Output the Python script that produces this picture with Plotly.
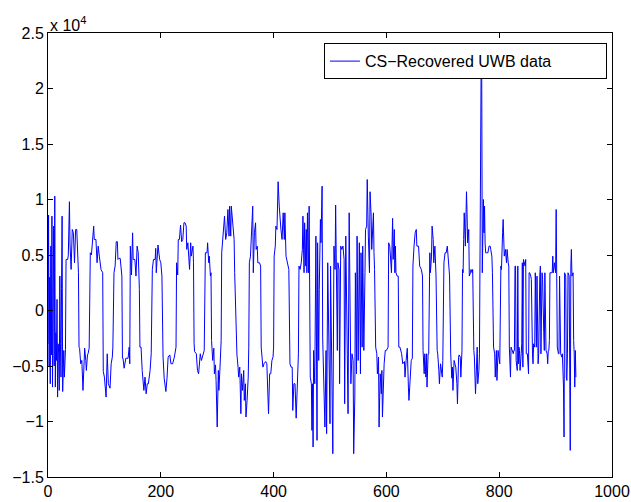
import plotly.graph_objects as go

# sample index of each point
sample = [0,1,2,3,4,5,6,7,8,9,10,11,12,13,14,15,16,17,18,19,20,21,22,23,24,25,26,27,28,29,30,31,32,33,35,36,38,39,41,43,45,47,49,51,53,54,55,56,58,60,62,63,65,67,68,70,71,73,75,77,79,81,82,85,87,89,91,94,97,98,100,103,105,107,110,112,114,115,
117,119,121,123,124,126,128,130,131,132,133,135,138,142,144,145,146,148,150,151,154,156,158,160,162,163,165,167,170,172,174,176,178,181,183,185,187,190,191,192,195,198,200,202,203,204,206,209,211,213,216,218,221,224,227,228,230,231,233,235,
237,239,241,243,245,246,248,251,253,254,257,258,259,260,263,265,267,270,272,274,277,279,282,283,285,286,288,289,290,292,294,295,297,298,300,302,303,305,307,308,310,312,313,315,317,319,321,322,324,325,327,328,330,331,334,335,337,338,340,342,343,345,347,348,350,351,353,355,356,357,359,361,362,363,364,366,
368,369,371,372,375,377,378,381,383,386,388,390,391,393,395,397,399,400,401,403,404,406,408,410,412,413,415,417,419,420,422,425,427,429,431,433,434,436,438,440,442,444,445,447,449,451,452,454,455,457,458,459,460,462,463,464,465,467,468,469,470,471,473,475,477,478,480,481,483,484,486,487,489,
491,493,494,496,498,500,501,503,505,507,509,510,511,513,514,516,517,519,521,523,525,526,528,530,532,534,536,537,539,541,542,544,545,547,548,550,552,554,555,557,558,560,562,563,565,566,568,570,571,573,574,575,577,578,579,581,583,584,586,587,589,591,592,593,595,596,598,600,603,604,606,608,609,611,612,
613,614,615,616,617,619,621,622,624,627,629,632,633,635,637,639,640,642,644,646,647,649,651,653,654,657,659,662,664,665,667,668,670,671,672,674,675,677,678,680,681,683,684,686,687,688,690,691,693,694,696,697,699,700,702,704,706,708,710,711,712,714,716,717,718,720,722,723,725,726,728,729,731,732,734,735,736,
737,738,740,741,742,743,744,746,747,749,750,752,753,755,756,758,759,761,762,764,765,766,767,768,769,770,771,772,773,774,775,776,778,780,782,784,785,787,788,790,792,793,795,796,798,800,801,803,804,806,807,809,811,813,814,816,817,818,820,821,823,825,826,827,828,829,830,832,833,834,835,836,837,839,840,841,842,843,844,846,847,848,850,852,853,854,856,857,859,860,861,
863,864,866,867,869,870,872,873,874,876,877,879,880,881,882,883,885,886,887,888,889,890,892,894,895,896,898,899,900,901,902,903,905,906,907,908,909,911,912,914,915,916,918,919,920,921,922,924,925,926,927,928,929,931,932,933,934,935,936]

# recovered amplitude at each sample
amplitude = [-3000,8600,-5000,3000,-6600,5800,-4000,8500,-6900,2000,7600,-5000,10300,-6900,-2000,-4500,1000,-7800,-3000,-3900,-7200,3100,-3000,-6000,2000,8500,-7300,-5000,-3600,-6000,-4500,-3500,4600,4600,4600,5000,9800,6000,3700,7300,7000,4300,7300,7300,5500,3400,-3300,-3400,-4800,-4500,-7200,-5000,-3400,-4500,-5400,-4000,-3900,-3400,5200,5000,6000,7600,6400,6400,4300,5800,4900,3700,3400,-5500,-6000,-7800,-3900,-6600,-7000,-4800,-4200,-3300,
3400,4000,6200,6200,4600,4700,4700,3700,3100,-4300,-4300,-5200,-4300,-4300,-3300,-4800,5800,3200,7000,4600,4600,3100,5800,5200,1900,-3300,-3300,-5400,-7200,-6000,-7500,-6600,-6600,-5400,-3900,3700,4600,4600,5600,3400,5900,4600,4300,3100,-3000,-4200,-6100,-7300,-6100,-4200,-4000,-4800,-4800,-4200,-3300,4300,3200,6400,6400,7700,
6200,6400,7900,7900,7600,5500,6100,3700,6100,4900,5800,4300,-3000,-3700,-3900,-5400,-5700,-3900,-4500,-4200,-3600,5200,5200,6100,4300,4900,3100,3400,-2700,-4500,-3400,-5700,-4900,-6300,-10500,-5400,-7200,-5100,-2700,5200,6400,7600,8500,6400,7000,9100,6700,9400,6700,9400,8200,7600,6400,3400,-3900,-4000,-5100,-6000,-5100,-9300,-5700,-7200,-5400,-8100,-6600,-9600,-8100,-6000,-3300,4300,4900,7600,7300,9400,3400,7000,
7900,5500,5800,4300,4300,4000,-3300,-5100,-4800,-4600,-4800,-6900,-9300,-5700,-5700,-4500,-4200,-3300,4900,5800,7600,7300,11600,9400,7600,7300,6400,8800,6400,8800,4900,4000,3700,-4800,-5100,-5100,-9000,-6600,-6600,-9700,-5700,-3900,4000,3700,4300,5500,8500,3400,7900,4000,7300,3400,8800,3400,9400,3400,-6000,-6600,-10800,-6600,-12300,-3600,-6600,6700,-11700,6100,-4500,1900,8200,6100,11200,-2400,-5700,
-10500,-3600,-11100,4300,-6300,-10200,4000,-7500,-12900,5800,3700,9500,4600,-3600,4300,3700,-6600,5800,5500,5800,4600,-8400,6700,-3900,-9300,8800,-3300,-6600,-3900,-4500,-12900,-7800,3400,-5700,6700,-4500,6100,-5700,5200,-3300,5800,-3600,3400,7300,7600,11800,6700,3400,10700,8500,5500,7000,8800,5200,3700,-3300,-3900,-5700,-4200,-10500,-5700,-7500,-5400,-9600,-6000,-4800,-3600,-3600,-3300,6100,5800,4600,3400,8300,4600,
5800,7300,3400,5800,3400,3100,3100,-3300,-3300,-3900,-4800,-4600,-6000,-4500,-3400,-6900,-8100,-6300,-4500,-4300,4000,5800,7000,7300,5800,5800,4000,3700,3100,-3600,-5700,-3900,-6000,-3900,-6900,-3900,-3900,5200,3400,4900,7600,6400,4300,5800,4600,3100,-3600,-3900,-5400,-6600,-4800,-5100,-6000,-4500,4300,5200,5200,5800,4600,3400,3100,-3900,-6100,-5100,-7200,-4500,-4800,-5100,-6600,-8400,-4200,-4000,-4200,-6000,-3600,3700,3400,
6400,8800,5800,7600,10700,8800,6100,7300,3100,3400,3700,3400,3700,-3600,-4200,-7500,-5100,-3300,-6600,-5400,-3900,3400,16000,22500,21500,3400,8500,10000,7000,9400,6100,5200,5200,5200,5800,5800,5500,4900,3400,-3300,-3900,-6000,-3600,-6300,-3600,-4800,-4800,4000,3700,7000,8200,4900,5500,4300,5500,4300,4000,-3300,-6000,-3300,-3600,-3900,-3600,-3600,4000,4000,-4500,-5400,4000,-4800,-3300,-3600,-5400,-3900,-3000,4300,-5100,4600,4300,4000,4600,-3900,-3900,-5700,3400,3400,3100,2800,-3900,-4800,-3000,
-3300,3400,-3300,3100,-4800,-3900,3100,4000,-3900,3400,2800,-2000,-3600,3400,-3300,-3600,-3900,-4800,-3600,-3600,-2700,3400,3400,3400,4900,3400,4300,4000,3400,9100,4000,-3300,-3900,-3900,3100,-3900,-3900,-4200,-3900,-6900,-11400,3400,3100,-6000,-6300,-3900,3400,3100,-6600,-12600,4000,5500,3100,3400,-2700,-3900,-6900,-3600,-6000]

x_ticks = [0, 200, 400, 600, 800, 1000]
y_ticks = [-15000, -10000, -5000, 0, 5000, 10000, 15000, 20000, 25000]
y_tick_labels = ["\u22121.5", "\u22121", "\u22120.5", "0", "0.5", "1", "1.5", "2", "2.5"]
series_name = "CS\u2212Recovered UWB data"

FONT = "Liberation Sans, Arial, Helvetica, sans-serif"

fig = go.Figure()
fig.add_trace(go.Scatter(x=sample, y=amplitude, mode="lines", name=series_name,
                         line=dict(color="#0000ff", width=1)))

axis_common = dict(showline=True, linecolor="black", linewidth=1, mirror="ticks",
                   ticks="inside", ticklen=5, tickcolor="black", showgrid=False,
                   zeroline=False, automargin=False,
                   tickfont=dict(family=FONT, size=16, color="black"))

fig.update_layout(
    template="none",
    width=631, height=502,
    margin=dict(l=48, r=19, t=33, b=25, pad=0),
    paper_bgcolor="white", plot_bgcolor="white",
    showlegend=True,
    legend=dict(x=0.991, y=0.977, xanchor="right", yanchor="top",
                orientation="h", entrywidth=236, entrywidthmode="pixels",
                bgcolor="white", bordercolor="black", borderwidth=1,
                font=dict(family=FONT, size=16, color="black")),
    xaxis=dict(range=[0, 1000], tickvals=x_ticks, **axis_common),
    yaxis=dict(range=[-15000, 25000], tickvals=y_ticks, ticktext=y_tick_labels, **axis_common),
    annotations=[dict(text="x 10<sup>4</sup>", xref="paper", yref="paper", x=0, y=1.0,
                      xanchor="left", yanchor="bottom", yshift=-3, showarrow=False,
                      font=dict(family=FONT, size=16, color="black"))],
)

fig.write_html("out.html")
